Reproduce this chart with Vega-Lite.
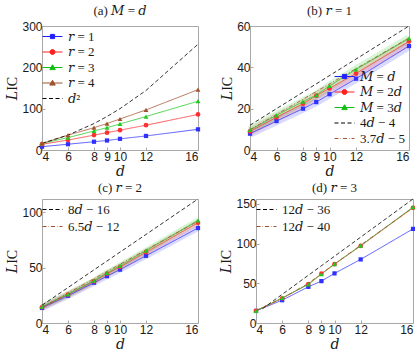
{
  "$schema": "https://vega.github.io/schema/vega-lite/v6.json",
  "padding": {"left": 5, "top": 4, "right": 1, "bottom": 2},
  "background": "white",
  "datasets": {
    "a": [
      {"d": 4, "v": 8, "s": "𝑟 = 1"}, {"d": 6, "v": 14, "s": "𝑟 = 1"}, {"d": 8, "v": 20, "s": "𝑟 = 1"}, {"d": 9, "v": 23, "s": "𝑟 = 1"}, {"d": 10, "v": 27, "s": "𝑟 = 1"}, {"d": 12, "v": 34, "s": "𝑟 = 1"}, {"d": 16, "v": 50, "s": "𝑟 = 1"},
      {"d": 4, "v": 14, "s": "𝑟 = 2"}, {"d": 6, "v": 24, "s": "𝑟 = 2"}, {"d": 8, "v": 36, "s": "𝑟 = 2"}, {"d": 9, "v": 42, "s": "𝑟 = 2"}, {"d": 10, "v": 48, "s": "𝑟 = 2"}, {"d": 12, "v": 60, "s": "𝑟 = 2"}, {"d": 16, "v": 86, "s": "𝑟 = 2"},
      {"d": 4, "v": 16, "s": "𝑟 = 3"}, {"d": 6, "v": 30, "s": "𝑟 = 3"}, {"d": 8, "v": 46, "s": "𝑟 = 3"}, {"d": 9, "v": 54, "s": "𝑟 = 3"}, {"d": 10, "v": 63, "s": "𝑟 = 3"}, {"d": 12, "v": 81, "s": "𝑟 = 3"}, {"d": 16, "v": 118, "s": "𝑟 = 3"},
      {"d": 4, "v": 16, "s": "𝑟 = 4"}, {"d": 6, "v": 36, "s": "𝑟 = 4"}, {"d": 8, "v": 54, "s": "𝑟 = 4"}, {"d": 9, "v": 64, "s": "𝑟 = 4"}, {"d": 10, "v": 75, "s": "𝑟 = 4"}, {"d": 12, "v": 97, "s": "𝑟 = 4"}, {"d": 16, "v": 146, "s": "𝑟 = 4"},
      {"d": 4, "v": 16, "s": "𝑑²"}, {"d": 6, "v": 36, "s": "𝑑²"}, {"d": 8, "v": 64, "s": "𝑑²"}, {"d": 9, "v": 81, "s": "𝑑²"}, {"d": 10, "v": 100, "s": "𝑑²"}, {"d": 12, "v": 144, "s": "𝑑²"}, {"d": 16, "v": 256, "s": "𝑑²"}
    ],
    "b": [
      {"d": 4, "v": 7.9, "s": "𝑀 = 𝑑"}, {"d": 6, "v": 14, "s": "𝑀 = 𝑑"}, {"d": 8, "v": 20, "s": "𝑀 = 𝑑"}, {"d": 9, "v": 23.2, "s": "𝑀 = 𝑑"}, {"d": 10, "v": 27, "s": "𝑀 = 𝑑"}, {"d": 12, "v": 34.5, "s": "𝑀 = 𝑑"}, {"d": 16, "v": 50.3, "s": "𝑀 = 𝑑"},
      {"d": 4, "v": 9, "s": "𝑀 = 2𝑑"}, {"d": 6, "v": 15.8, "s": "𝑀 = 2𝑑"}, {"d": 8, "v": 22.4, "s": "𝑀 = 2𝑑"}, {"d": 9, "v": 26.3, "s": "𝑀 = 2𝑑"}, {"d": 10, "v": 29.8, "s": "𝑀 = 2𝑑"}, {"d": 12, "v": 37, "s": "𝑀 = 2𝑑"}, {"d": 16, "v": 52.6, "s": "𝑀 = 2𝑑"},
      {"d": 4, "v": 9.7, "s": "𝑀 = 3𝑑"}, {"d": 6, "v": 16.8, "s": "𝑀 = 3𝑑"}, {"d": 8, "v": 23.4, "s": "𝑀 = 3𝑑"}, {"d": 9, "v": 26.6, "s": "𝑀 = 3𝑑"}, {"d": 10, "v": 31, "s": "𝑀 = 3𝑑"}, {"d": 12, "v": 39, "s": "𝑀 = 3𝑑"}, {"d": 16, "v": 54, "s": "𝑀 = 3𝑑"},
      {"d": 4, "v": 12, "s": "4𝑑 − 4"}, {"d": 16, "v": 60, "s": "4𝑑 − 4"},
      {"d": 4, "v": 9.8, "s": "3.7𝑑 − 5"}, {"d": 16, "v": 54.2, "s": "3.7𝑑 − 5"}
    ],
    "c": [
      {"d": 4, "v": 13.6, "s": "𝑀 = 𝑑"}, {"d": 6, "v": 24.6, "s": "𝑀 = 𝑑"}, {"d": 8, "v": 36.4, "s": "𝑀 = 𝑑"}, {"d": 9, "v": 42.3, "s": "𝑀 = 𝑑"}, {"d": 10, "v": 48.2, "s": "𝑀 = 𝑑"}, {"d": 12, "v": 60.7, "s": "𝑀 = 𝑑"}, {"d": 16, "v": 85.8, "s": "𝑀 = 𝑑"},
      {"d": 4, "v": 14.2, "s": "𝑀 = 2𝑑"}, {"d": 6, "v": 25.7, "s": "𝑀 = 2𝑑"}, {"d": 8, "v": 37.6, "s": "𝑀 = 2𝑑"}, {"d": 9, "v": 44.5, "s": "𝑀 = 2𝑑"}, {"d": 10, "v": 50.6, "s": "𝑀 = 2𝑑"}, {"d": 12, "v": 64, "s": "𝑀 = 2𝑑"}, {"d": 16, "v": 90.5, "s": "𝑀 = 2𝑑"},
      {"d": 4, "v": 14.8, "s": "𝑀 = 3𝑑"}, {"d": 6, "v": 26, "s": "𝑀 = 3𝑑"}, {"d": 8, "v": 38.2, "s": "𝑀 = 3𝑑"}, {"d": 9, "v": 45.3, "s": "𝑀 = 3𝑑"}, {"d": 10, "v": 51.8, "s": "𝑀 = 3𝑑"}, {"d": 12, "v": 65.4, "s": "𝑀 = 3𝑑"}, {"d": 16, "v": 92.6, "s": "𝑀 = 3𝑑"},
      {"d": 4, "v": 16, "s": "8𝑑 − 16"}, {"d": 16, "v": 112, "s": "8𝑑 − 16"},
      {"d": 4, "v": 14, "s": "6.5𝑑 − 12"}, {"d": 16, "v": 92, "s": "6.5𝑑 − 12"}
    ],
    "dd": [
      {"d": 4, "v": 15.2, "s": "𝑀 = 𝑑"}, {"d": 6, "v": 28.7, "s": "𝑀 = 𝑑"}, {"d": 8, "v": 45.5, "s": "𝑀 = 𝑑"}, {"d": 9, "v": 52.7, "s": "𝑀 = 𝑑"}, {"d": 10, "v": 62.4, "s": "𝑀 = 𝑑"}, {"d": 12, "v": 80, "s": "𝑀 = 𝑑"}, {"d": 16, "v": 118.4, "s": "𝑀 = 𝑑"},
      {"d": 4, "v": 15.2, "s": "𝑀 = 2𝑑"}, {"d": 6, "v": 31, "s": "𝑀 = 2𝑑"}, {"d": 8, "v": 49, "s": "𝑀 = 2𝑑"}, {"d": 9, "v": 62, "s": "𝑀 = 2𝑑"}, {"d": 10, "v": 74, "s": "𝑀 = 2𝑑"}, {"d": 12, "v": 97, "s": "𝑀 = 2𝑑"}, {"d": 16, "v": 145, "s": "𝑀 = 2𝑑"},
      {"d": 4, "v": 15.2, "s": "𝑀 = 3𝑑"}, {"d": 6, "v": 31.6, "s": "𝑀 = 3𝑑"}, {"d": 8, "v": 48.5, "s": "𝑀 = 3𝑑"}, {"d": 9, "v": 61.5, "s": "𝑀 = 3𝑑"}, {"d": 10, "v": 74.2, "s": "𝑀 = 3𝑑"}, {"d": 12, "v": 97.3, "s": "𝑀 = 3𝑑"}, {"d": 16, "v": 145.8, "s": "𝑀 = 3𝑑"},
      {"d": 4.5, "v": 18, "s": "12𝑑 − 36"}, {"d": 16, "v": 156, "s": "12𝑑 − 36"},
      {"d": 4, "v": 16, "s": "12𝑑 − 40"}, {"d": 6, "v": 31, "s": "12𝑑 − 40"}, {"d": 8, "v": 50, "s": "12𝑑 − 40"}, {"d": 9, "v": 62, "s": "12𝑑 − 40"}, {"d": 10, "v": 74, "s": "12𝑑 − 40"}, {"d": 12, "v": 98, "s": "12𝑑 − 40"}, {"d": 16, "v": 145, "s": "12𝑑 − 40"}
    ]
  },
  "config": {
    "font": "Liberation Sans",
    "view": {"stroke": "#a8a8a8"},
    "axis": {"domainColor": "#a8a8a8", "tickColor": "#a8a8a8", "tickSize": -3, "labelFontSize": 12, "labelColor": "#1a1a1a", "labelPadding": 3, "grid": false, "titleFont": "Liberation Serif, DejaVu Serif", "titleFontSize": 14, "titleFontWeight": "normal", "titleColor": "#1a1a1a", "titlePadding": 2},
    "axisX": {"labelPadding": 4},
    "title": {"font": "Liberation Serif, DejaVu Serif", "fontSize": 13, "fontWeight": "normal", "offset": 2, "color": "#1a1a1a"},
    "legend": {"title": null, "symbolSize": 100, "symbolStrokeWidth": 1, "symbolOpacity": 1, "labelFont": "Liberation Serif, DejaVu Serif", "labelFontSize": 13, "labelColor": "#1a1a1a", "labelOffset": 9, "rowPadding": 1.5, "padding": 2, "offset": 2, "labelLimit": 200}
  },
  "resolve": {"scale": {"color": "independent", "fill": "independent", "stroke": "independent", "shape": "independent", "strokeDash": "independent", "strokeWidth": "independent"}, "legend": {"fill": "independent", "stroke": "independent", "shape": "independent"}},
  "vconcat": [
    {
      "spacing": 16,
      "resolve": {"scale": {"color": "independent", "fill": "independent", "stroke": "independent", "shape": "independent", "strokeDash": "independent", "strokeWidth": "independent"}, "legend": {"fill": "independent", "stroke": "independent", "shape": "independent"}},
      "hconcat": [
        {
          "width": 156, "height": 124,
          "title": "(a) 𝑀 = 𝑑",
          "data": {"name": "a"},
          "encoding": {
            "x": {"field": "d", "type": "quantitative", "scale": {"domain": [4, 16]}, "axis": {"values": [4, 6, 8, 9, 10, 12, 16], "title": "𝑑"}},
            "y": {"field": "v", "type": "quantitative", "scale": {"domain": [0, 300]}, "axis": {"values": [0, 100, 200, 300], "title": "𝐿IC"}}
          },
          "layer": [
            {"mark": {"type": "line"}, "encoding": {
              "color": {"field": "s", "scale": {"domain": ["𝑟 = 1", "𝑟 = 2", "𝑟 = 3", "𝑟 = 4", "𝑑²", "-"], "range": ["#3030ff", "#ff3030", "#20c820", "#a0522d", "#000000", "#ffffff"]}, "legend": null},
              "strokeDash": {"field": "s", "scale": {"domain": ["𝑟 = 1", "𝑟 = 2", "𝑟 = 3", "𝑟 = 4", "𝑑²", "-"], "range": [[1, 0], [1, 0], [1, 0], [1, 0], [4, 2.5], [1, 0]]}, "legend": null},
              "strokeWidth": {"field": "s", "scale": {"domain": ["𝑟 = 1", "𝑟 = 2", "𝑟 = 3", "𝑟 = 4", "𝑑²", "-"], "range": [0.8, 0.8, 0.8, 0.8, 1.8, 1]}, "legend": null}
            }},
            {"transform": [{"filter": {"field": "s", "oneOf": ["𝑟 = 1"]}}], "mark": {"type": "point", "filled": true, "shape": "square", "size": 18, "opacity": 1}, "encoding": {"color": {"field": "s", "legend": null}}},
            {"transform": [{"filter": {"field": "s", "oneOf": ["𝑟 = 2"]}}], "mark": {"type": "point", "filled": true, "shape": "circle", "size": 22, "opacity": 1}, "encoding": {"color": {"field": "s", "legend": null}}},
            {"transform": [{"filter": {"field": "s", "oneOf": ["𝑟 = 3", "𝑟 = 4"]}}], "mark": {"type": "point", "filled": true, "shape": "triangle-up", "size": 24, "opacity": 1}, "encoding": {"color": {"field": "s", "legend": null}}},
            {"mark": {"type": "point", "filled": true, "opacity": 0}, "encoding": {
              "fill": {"field": "s", "scale": {"domain": ["𝑟 = 1", "𝑟 = 2", "𝑟 = 3", "𝑟 = 4", "𝑑²"], "range": ["#2020ff", "#ff2020", "#10c010", "#a0522d", "#000000"]}, "legend": {"orient": "top-left"}},
              "stroke": {"field": "s", "scale": {"domain": ["𝑟 = 1", "𝑟 = 2", "𝑟 = 3", "𝑟 = 4", "𝑑²"], "range": ["#2020ff", "#ff2020", "#10c010", "#a0522d", "#000000"]}, "legend": {"orient": "top-left"}},
              "shape": {"field": "s", "scale": {"domain": ["𝑟 = 1", "𝑟 = 2", "𝑟 = 3", "𝑟 = 4", "𝑑²"], "range": [
                "M-2,0H2M-0.42,-0.42H0.42V0.42H-0.42Z",
                "M-2,0H2M0.5,0A0.5,0.5,0,1,1,-0.5,0A0.5,0.5,0,1,1,0.5,0Z",
                "M-2,0H2M0,-0.55L0.55,0.42H-0.55Z",
                "M-2,0H2M0,-0.55L0.55,0.42H-0.55Z",
                "M-2,0H-1.2M-0.7,0H0.1M0.6,0H1.4M1.9,0H2"
              ]}, "legend": {"orient": "top-left"}}
            }}
          ]
        },
        {
          "width": 159, "height": 124,
          "title": "(b) 𝑟 = 1",
          "data": {"name": "b"},
          "encoding": {
            "x": {"field": "d", "type": "quantitative", "scale": {"domain": [4, 16]}, "axis": {"values": [4, 6, 8, 9, 10, 12, 16], "title": "𝑑"}},
            "y": {"field": "v", "type": "quantitative", "scale": {"domain": [0, 60]}, "axis": {"values": [0, 20, 40, 60], "title": "𝐿IC"}}
          },
          "layer": [
            {"transform": [{"filter": {"field": "s", "oneOf": ["𝑀 = 𝑑", "𝑀 = 2𝑑", "𝑀 = 3𝑑"]}}], "mark": {"type": "line", "strokeWidth": 8, "opacity": 0.18}, "encoding": {"color": {"field": "s", "legend": null}}},
            {"mark": {"type": "line"}, "encoding": {
              "color": {"field": "s", "scale": {"domain": ["𝑀 = 𝑑", "𝑀 = 2𝑑", "𝑀 = 3𝑑", "4𝑑 − 4", "3.7𝑑 − 5", "-"], "range": ["#3030ff", "#ff3030", "#20c820", "#000000", "#a0522d", "#ffffff"]}, "legend": null},
              "strokeDash": {"field": "s", "scale": {"domain": ["𝑀 = 𝑑", "𝑀 = 2𝑑", "𝑀 = 3𝑑", "4𝑑 − 4", "3.7𝑑 − 5", "-"], "range": [[1, 0], [1, 0], [1, 0], [4, 2.5], [4, 2, 1, 2], [1, 0]]}, "legend": null},
              "strokeWidth": {"field": "s", "scale": {"domain": ["𝑀 = 𝑑", "𝑀 = 2𝑑", "𝑀 = 3𝑑", "4𝑑 − 4", "3.7𝑑 − 5", "-"], "range": [0.8, 0.8, 0.8, 1.5, 1.4, 1]}, "legend": null}
            }},
            {"transform": [{"filter": {"field": "s", "oneOf": ["𝑀 = 𝑑"]}}], "mark": {"type": "point", "filled": true, "shape": "square", "size": 18, "opacity": 1}, "encoding": {"color": {"field": "s", "legend": null}}},
            {"transform": [{"filter": {"field": "s", "oneOf": ["𝑀 = 2𝑑"]}}], "mark": {"type": "point", "filled": true, "shape": "circle", "size": 22, "opacity": 1}, "encoding": {"color": {"field": "s", "legend": null}}},
            {"transform": [{"filter": {"field": "s", "oneOf": ["𝑀 = 3𝑑"]}}], "mark": {"type": "point", "filled": true, "shape": "triangle-up", "size": 24, "opacity": 1}, "encoding": {"color": {"field": "s", "legend": null}}},
            {"mark": {"type": "point", "filled": true, "opacity": 0}, "encoding": {
              "fill": {"field": "s", "scale": {"domain": ["𝑀 = 𝑑", "𝑀 = 2𝑑", "𝑀 = 3𝑑", "4𝑑 − 4", "3.7𝑑 − 5"], "range": ["#2020ff", "#ff2020", "#10c010", "#000000", "#a0522d"]}, "legend": {"orient": "bottom-right"}},
              "stroke": {"field": "s", "scale": {"domain": ["𝑀 = 𝑑", "𝑀 = 2𝑑", "𝑀 = 3𝑑", "4𝑑 − 4", "3.7𝑑 − 5"], "range": ["#2020ff", "#ff2020", "#10c010", "#000000", "#a0522d"]}, "legend": {"orient": "bottom-right"}},
              "shape": {"field": "s", "scale": {"domain": ["𝑀 = 𝑑", "𝑀 = 2𝑑", "𝑀 = 3𝑑", "4𝑑 − 4", "3.7𝑑 − 5"], "range": [
                "M-2,0H2M-0.42,-0.42H0.42V0.42H-0.42Z",
                "M-2,0H2M0.5,0A0.5,0.5,0,1,1,-0.5,0A0.5,0.5,0,1,1,0.5,0Z",
                "M-2,0H2M0,-0.55L0.55,0.42H-0.55Z",
                "M-2,0H-1.2M-0.7,0H0.1M0.6,0H1.4M1.9,0H2",
                "M-2,0H-1.2M-0.8,0H-0.7M-0.3,0H0.5M0.9,0H1M1.4,0H2"
              ]}, "legend": {"orient": "bottom-right"}}
            }}
          ]
        }
      ]
    },
    {
      "spacing": 8,
      "resolve": {"scale": {"color": "independent", "fill": "independent", "stroke": "independent", "shape": "independent", "strokeDash": "independent", "strokeWidth": "independent"}, "legend": {"fill": "independent", "stroke": "independent", "shape": "independent"}},
      "hconcat": [
        {
          "width": 156, "height": 124,
          "title": "(c) 𝑟 = 2",
          "data": {"name": "c"},
          "encoding": {
            "x": {"field": "d", "type": "quantitative", "scale": {"domain": [4, 16]}, "axis": {"values": [4, 6, 8, 9, 10, 12, 16], "title": "𝑑"}},
            "y": {"field": "v", "type": "quantitative", "scale": {"domain": [0, 112]}, "axis": {"values": [0, 50, 100], "title": "𝐿IC"}}
          },
          "layer": [
            {"transform": [{"filter": {"field": "s", "oneOf": ["𝑀 = 𝑑", "𝑀 = 2𝑑", "𝑀 = 3𝑑"]}}], "mark": {"type": "line", "strokeWidth": 6, "opacity": 0.18}, "encoding": {"color": {"field": "s", "legend": null}}},
            {"mark": {"type": "line"}, "encoding": {
              "color": {"field": "s", "scale": {"domain": ["𝑀 = 𝑑", "𝑀 = 2𝑑", "𝑀 = 3𝑑", "8𝑑 − 16", "6.5𝑑 − 12"], "range": ["#3030ff", "#ff3030", "#20c820", "#000000", "#a0522d"]}, "legend": null},
              "strokeDash": {"field": "s", "scale": {"domain": ["𝑀 = 𝑑", "𝑀 = 2𝑑", "𝑀 = 3𝑑", "8𝑑 − 16", "6.5𝑑 − 12"], "range": [[1, 0], [1, 0], [1, 0], [4, 2.5], [4, 2, 1, 2]]}, "legend": null},
              "strokeWidth": {"field": "s", "scale": {"domain": ["𝑀 = 𝑑", "𝑀 = 2𝑑", "𝑀 = 3𝑑", "8𝑑 − 16", "6.5𝑑 − 12"], "range": [0.8, 0.8, 0.8, 1.5, 1.4]}, "legend": null}
            }},
            {"transform": [{"filter": {"field": "s", "oneOf": ["𝑀 = 𝑑"]}}], "mark": {"type": "point", "filled": true, "shape": "square", "size": 18, "opacity": 1}, "encoding": {"color": {"field": "s", "legend": null}}},
            {"transform": [{"filter": {"field": "s", "oneOf": ["𝑀 = 2𝑑"]}}], "mark": {"type": "point", "filled": true, "shape": "circle", "size": 22, "opacity": 1}, "encoding": {"color": {"field": "s", "legend": null}}},
            {"transform": [{"filter": {"field": "s", "oneOf": ["𝑀 = 3𝑑"]}}], "mark": {"type": "point", "filled": true, "shape": "triangle-up", "size": 24, "opacity": 1}, "encoding": {"color": {"field": "s", "legend": null}}},
            {"transform": [{"filter": {"field": "s", "oneOf": ["8𝑑 − 16", "6.5𝑑 − 12"]}}], "mark": {"type": "point", "filled": true, "opacity": 0}, "encoding": {
              "fill": {"field": "s", "scale": {"domain": ["8𝑑 − 16", "6.5𝑑 − 12"], "range": ["#000000", "#a0522d"]}, "legend": {"orient": "top-left", "rowPadding": 3}},
              "stroke": {"field": "s", "scale": {"domain": ["8𝑑 − 16", "6.5𝑑 − 12"], "range": ["#000000", "#a0522d"]}, "legend": {"orient": "top-left", "rowPadding": 3}},
              "shape": {"field": "s", "scale": {"domain": ["8𝑑 − 16", "6.5𝑑 − 12"], "range": [
                "M-2,0H-1.2M-0.7,0H0.1M0.6,0H1.4M1.9,0H2",
                "M-2,0H-1.2M-0.8,0H-0.7M-0.3,0H0.5M0.9,0H1M1.4,0H2"
              ]}, "legend": {"orient": "top-left", "rowPadding": 3}}
            }}
          ]
        },
        {
          "width": 157, "height": 124,
          "title": "(d) 𝑟 = 3",
          "data": {"name": "dd"},
          "encoding": {
            "x": {"field": "d", "type": "quantitative", "scale": {"domain": [4, 16]}, "axis": {"values": [4, 6, 8, 9, 10, 12, 16], "title": "𝑑"}},
            "y": {"field": "v", "type": "quantitative", "scale": {"domain": [0, 156]}, "axis": {"values": [0, 50, 100, 150], "title": "𝐿IC"}}
          },
          "layer": [
            {"mark": {"type": "line"}, "encoding": {
              "color": {"field": "s", "scale": {"domain": ["𝑀 = 𝑑", "𝑀 = 2𝑑", "𝑀 = 3𝑑", "12𝑑 − 36", "12𝑑 − 40"], "range": ["#3030ff", "#ff3030", "#20c820", "#000000", "#a0522d"]}, "legend": null},
              "strokeDash": {"field": "s", "scale": {"domain": ["𝑀 = 𝑑", "𝑀 = 2𝑑", "𝑀 = 3𝑑", "12𝑑 − 36", "12𝑑 − 40"], "range": [[1, 0], [1, 0], [1, 0], [4, 2.5], [4, 2, 1, 2]]}, "legend": null},
              "strokeWidth": {"field": "s", "scale": {"domain": ["𝑀 = 𝑑", "𝑀 = 2𝑑", "𝑀 = 3𝑑", "12𝑑 − 36", "12𝑑 − 40"], "range": [0.8, 0.8, 0.8, 1.5, 1.2]}, "legend": null}
            }},
            {"transform": [{"filter": {"field": "s", "oneOf": ["𝑀 = 𝑑"]}}], "mark": {"type": "point", "filled": true, "shape": "square", "size": 18, "opacity": 1}, "encoding": {"color": {"field": "s", "legend": null}}},
            {"transform": [{"filter": {"field": "s", "oneOf": ["𝑀 = 2𝑑"]}}], "mark": {"type": "point", "filled": true, "shape": "circle", "size": 22, "opacity": 1}, "encoding": {"color": {"field": "s", "legend": null}}},
            {"transform": [{"filter": {"field": "s", "oneOf": ["𝑀 = 3𝑑"]}}], "mark": {"type": "point", "filled": true, "shape": "triangle-up", "size": 24, "opacity": 1}, "encoding": {"color": {"field": "s", "legend": null}}},
            {"transform": [{"filter": {"field": "s", "oneOf": ["12𝑑 − 36", "12𝑑 − 40"]}}], "mark": {"type": "point", "filled": true, "opacity": 0}, "encoding": {
              "fill": {"field": "s", "scale": {"domain": ["12𝑑 − 36", "12𝑑 − 40"], "range": ["#000000", "#a0522d"]}, "legend": {"orient": "top-left", "rowPadding": 3}},
              "stroke": {"field": "s", "scale": {"domain": ["12𝑑 − 36", "12𝑑 − 40"], "range": ["#000000", "#a0522d"]}, "legend": {"orient": "top-left", "rowPadding": 3}},
              "shape": {"field": "s", "scale": {"domain": ["12𝑑 − 36", "12𝑑 − 40"], "range": [
                "M-2,0H-1.2M-0.7,0H0.1M0.6,0H1.4M1.9,0H2",
                "M-2,0H-1.2M-0.8,0H-0.7M-0.3,0H0.5M0.9,0H1M1.4,0H2"
              ]}, "legend": {"orient": "top-left", "rowPadding": 3}}
            }}
          ]
        }
      ]
    }
  ],
  "spacing": 2
}
